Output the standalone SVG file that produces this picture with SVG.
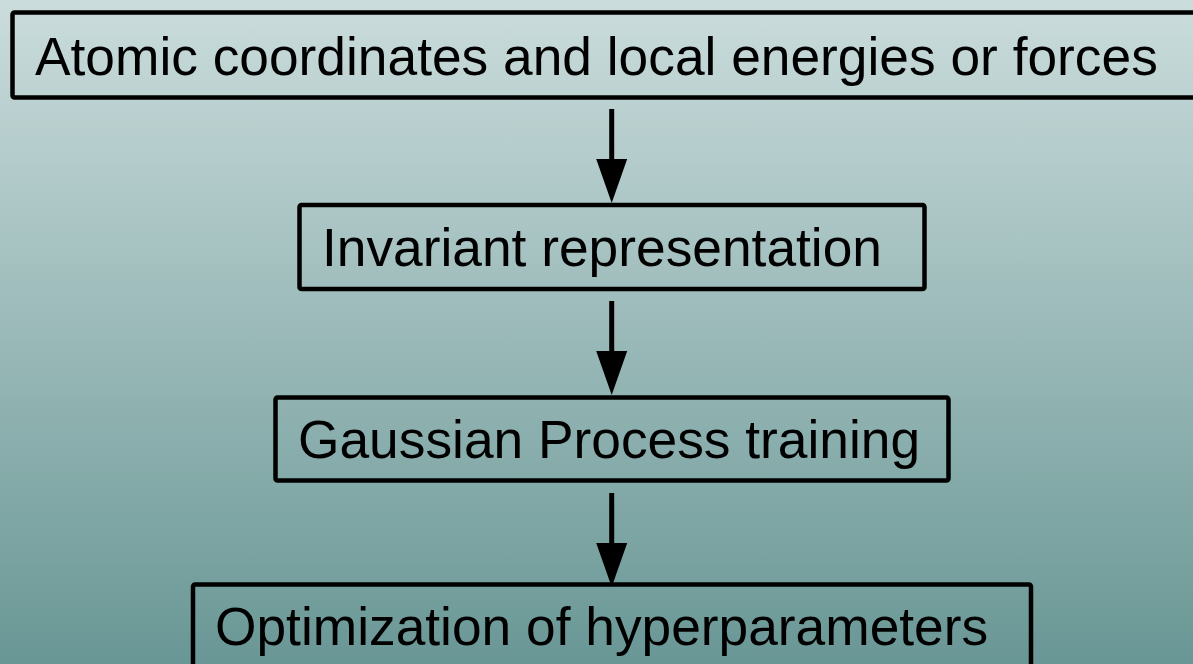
<svg xmlns="http://www.w3.org/2000/svg" width="1193" height="664" viewBox="0 0 1193 664">
  <defs>
    <linearGradient id="bg" x1="0" y1="0" x2="0" y2="1">
      <stop offset="0" stop-color="#cbdcdc"/>
      <stop offset="1" stop-color="#699795"/>
    </linearGradient>
    <style>
      .box { fill: none; stroke: #000; stroke-width: 4.5; }
      .label { font-family: "Liberation Sans", Arial, sans-serif; font-size: 53.3px; fill: #000; }
      .conn { stroke: #000; stroke-width: 5; fill: none; }
      .head { fill: #000; }
    </style>
  </defs>
  <rect x="0" y="0" width="1193" height="664" fill="url(#bg)"/>
  <g id="node-input">
    <rect class="box" x="12.5" y="12.5" width="1200" height="85" rx="2"/>
    <text class="label" x="35" y="75">Atomic coordinates and local energies or forces</text>
  </g>
  <g id="node-invariant">
    <rect class="box" x="299.5" y="205" width="625" height="84" rx="2"/>
    <text class="label" x="322" y="266">Invariant representation</text>
  </g>
  <g id="node-gp">
    <rect class="box" x="275.5" y="397.5" width="673" height="83" rx="2"/>
    <text class="label" x="298" y="458">Gaussian Process training</text>
  </g>
  <g id="node-opt">
    <rect class="box" x="193" y="584.5" width="838" height="120" rx="2"/>
    <text class="label" x="215" y="645">Optimization of hyperparameters</text>
  </g>
  <g id="connectors">
    <path class="conn" d="M611.7,109 L611.7,160"/>
    <path class="head" d="M596.2,159 L627.2,159 L611.7,203 Z"/>
    <path class="conn" d="M611.7,301 L611.7,352"/>
    <path class="head" d="M596.2,351 L627.2,351 L611.7,395 Z"/>
    <path class="conn" d="M611.7,493 L611.7,544"/>
    <path class="head" d="M596.2,543 L627.2,543 L611.7,587 Z"/>
  </g>
</svg>
